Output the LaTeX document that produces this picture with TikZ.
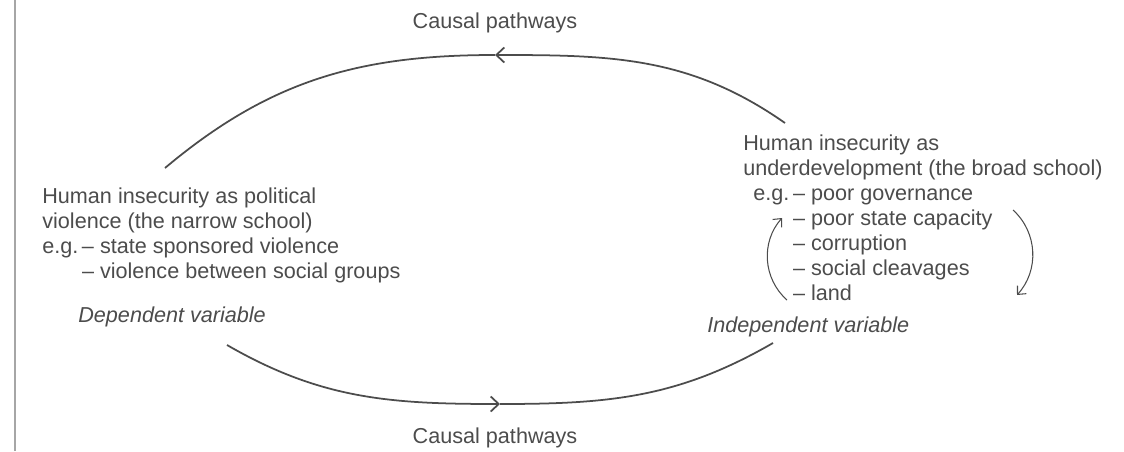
\documentclass[tikz,border=0pt]{standalone}
\usepackage{fontspec}
\setmainfont{Liberation Sans}
\usetikzlibrary{arrows.meta}
\definecolor{ink}{gray}{0.3}

\begin{document}
\begin{tikzpicture}[every node/.style={text=ink, inner sep=0pt, font=\fontsize{12.3}{14.2}\selectfont},
    pathway/.style={draw=ink, line width=1pt, -{Straight Barb[length=1.6mm,width=3mm]}},
    cyclearrow/.style={draw=ink, line width=0.6pt, -{Straight Barb[length=1.3mm,width=2.4mm]}}]
    \useasboundingbox (0,0) rectangle (22.48,9.02);
    \draw[gray!70, line width=1pt] (0.3,0)--(0.3,9.02);
    \node[anchor=base] (toplabel) at (9.90,8.46) {Causal pathways};
    \node[anchor=base] (botlabel) at (9.90,0.16) {Causal pathways};
    \node[anchor=base west, align=left] (narrow) at (0.84,3.46) {Human insecurity as political\\
        violence (the narrow school)\\
        e.g.\,-- state sponsored violence\\
        \hphantom{e.g.\,}-- violence between social groups};
    \node[anchor=base west, font=\fontsize{12.3}{14.2}\selectfont\itshape] (dep) at (1.56,2.58) {Dependent variable};
    \node[anchor=base west, align=left] (broad) at (14.86,3.02) {Human insecurity as\\
        underdevelopment (the broad school)\\
        \hspace*{0.2cm}e.g.\,-- poor governance\\
        \hspace*{0.2cm}\hphantom{e.g.\,}-- poor state capacity\\
        \hspace*{0.2cm}\hphantom{e.g.\,}-- corruption\\
        \hspace*{0.2cm}\hphantom{e.g.\,}-- social cleavages\\
        \hspace*{0.2cm}\hphantom{e.g.\,}-- land};
    \node[anchor=base west, font=\fontsize{12.3}{14.2}\selectfont\itshape] (indep) at (14.14,2.38) {Independent variable};
    \coordinate (indep-top) at (15.70,6.56);
    \coordinate (top-mid) at (9.90,7.92);
    \coordinate (dep-top) at (3.30,5.66);
    \coordinate (dep-bot) at (4.54,2.12);
    \coordinate (bot-mid) at (10.00,0.94);
    \coordinate (indep-bot) at (15.46,2.16);
    \draw[pathway] (indep-top) to[out=145,in=0] (top-mid);
    \draw[draw=ink, line width=1pt] (top-mid) to[out=180,in=40] (dep-top);
    \draw[pathway] (dep-bot) to[out=-30,in=180] (bot-mid);
    \draw[draw=ink, line width=1pt] (bot-mid) to[out=0,in=-150] (indep-bot);
    \coordinate (land-l) at (15.74,3.02);
    \coordinate (gov-l) at (15.64,4.66);
    \coordinate (cap-r) at (20.26,4.82);
    \coordinate (land-r) at (20.34,3.12);
    \draw[cyclearrow] (land-l) to[bend left=45] (gov-l);
    \draw[cyclearrow] (cap-r) to[bend left=45] (land-r);
\end{tikzpicture}
\end{document}
